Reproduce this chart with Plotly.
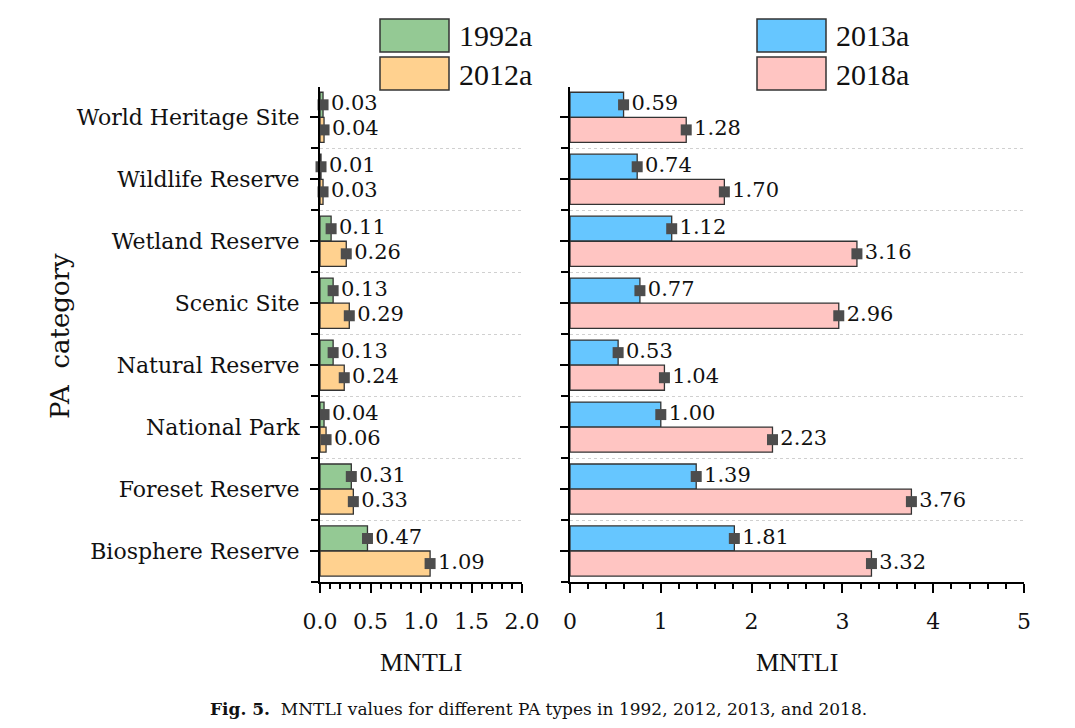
#! /usr/bin/env python3

import plotly.graph_objects as go

# categories top to bottom
CATEGORIES = ["World Heritage Site", "Wildlife Reserve", "Wetland Reserve", "Scenic Site",
              "Natural Reserve", "National Park", "Foreset Reserve", "Biosphere Reserve"]
MNTLI_1992 = [0.03, 0.01, 0.11, 0.13, 0.13, 0.04, 0.31, 0.47]
MNTLI_2012 = [0.04, 0.03, 0.26, 0.29, 0.24, 0.06, 0.33, 1.09]
MNTLI_2013 = [0.59, 0.74, 1.12, 0.77, 0.53, 1.00, 1.39, 1.81]
MNTLI_2018 = [1.28, 1.70, 3.16, 2.96, 1.04, 2.23, 3.76, 3.32]
NAMES = ["1992a", "2012a", "2013a", "2018a"]
COLORS = ["#94c994", "#ffd18f", "#66c6ff", "#ffc5c2"]

FONT = "DejaVu Serif"
NARROW = "Liberation Serif"
W, H = 1075, 728
OFF = 8  # page body margin


def px(x, y):
    return (x - OFF) / W, 1 - (y - OFF) / H


def main():
    fig = go.Figure()
    pos = list(range(len(CATEGORIES)))
    series = [(MNTLI_1992, "x", "y"), (MNTLI_2012, "x", "y"),
              (MNTLI_2013, "x2", "y2"), (MNTLI_2018, "x2", "y2")]

    for i, (vals, xa, ya) in enumerate(series):
        fig.add_trace(go.Bar(x=vals, y=pos, orientation="h", name=NAMES[i],
                             marker=dict(color=COLORS[i], line=dict(color="#333333", width=1.3)),
                             offsetgroup=str(i % 2), xaxis=xa, yaxis=ya, showlegend=False))
    for i, (vals, xa, ya) in enumerate(series):
        fig.add_trace(go.Scatter(x=vals, y=pos, mode="markers+text", offsetgroup=str(i % 2),
                                 orientation="h",
                                 marker=dict(symbol="square", size=11, color="#4d4d4d"),
                                 text=[f"{v:.2f}" for v in vals], textposition="middle right",
                                 textfont=dict(family=FONT, size=21, color="#111"),
                                 xaxis=xa, yaxis=ya, showlegend=False, cliponaxis=False))

    xcommon = dict(showline=True, linecolor="black", linewidth=2, ticks="outside", ticklen=9,
                   tickwidth=2, tickcolor="black", showgrid=False, zeroline=False, automargin=False,
                   tickfont=dict(family=FONT, size=22, color="#111"), ticklabelstandoff=10,
                   minor=dict(ticks="outside", ticklen=5, tickwidth=1.5, tickcolor="black"))
    ycommon = dict(showline=True, linecolor="black", linewidth=2, ticks="outside", ticklen=8,
                   tickwidth=2, tickcolor="black", range=[7.5, -0.49], zeroline=False,
                   tickvals=pos, showgrid=False, automargin=False, ticklabelstandoff=6,
                   minor=dict(ticks="outside", tick0=0.5, dtick=1, ticklen=7, tickwidth=2,
                              tickcolor="black", showgrid=True, gridcolor="#d0d0d0",
                              griddash="dot", gridwidth=1))

    x0, y0 = px(320, 582)
    x1, y1 = px(522, 87)
    x2, _ = px(570, 0)
    x3, _ = px(1024, 0)

    fig.update_layout(
        width=W, height=H, margin=dict(l=0, r=0, t=0, b=0, autoexpand=False),
        paper_bgcolor="white", plot_bgcolor="white",
        barmode="group", bargap=0.19, bargroupgap=0, scattermode="group", scattergap=0.19,
        font=dict(family=FONT, color="#111"),
        xaxis=dict(xcommon, domain=[x0, x1], range=[0, 2.0], dtick=0.5, tickformat=".1f",
                   anchor="y", minor=dict(xcommon["minor"], dtick=0.1)),
        xaxis2=dict(xcommon, domain=[x2, x3], range=[0, 5], dtick=1, anchor="y2",
                    minor=dict(xcommon["minor"], dtick=0.2)),
        yaxis=dict(ycommon, domain=[y0, y1], anchor="x", ticktext=CATEGORIES,
                   tickfont=dict(family=FONT, size=22, color="#111")),
        yaxis2=dict(ycommon, domain=[y0, y1], anchor="x2", showticklabels=False),
    )

    # legend boxes drawn as shapes (two separate legends)
    legend_pos = [(380, 19), (380, 57), (757, 19), (757, 57)]
    for i, (lx, ly) in enumerate(legend_pos):
        ax0, ay0 = px(lx, ly)
        ax1, ay1 = px(lx + 69, ly + 33)
        fig.add_shape(type="rect", xref="paper", yref="paper", x0=ax0, x1=ax1, y0=ay1, y1=ay0,
                      fillcolor=COLORS[i], line=dict(color="#333333", width=1.5))
        tx, ty = px(lx + 77, ly + 17)
        fig.add_annotation(x=tx, y=ty, xref="paper", yref="paper", text=NAMES[i], showarrow=False,
                           xanchor="left", yanchor="middle", font=dict(family=NARROW, size=30))

    for cx in [(320 + 522) / 2, (570 + 1024) / 2]:
        tx, ty = px(cx, 662)
        fig.add_annotation(x=tx, y=ty, xref="paper", yref="paper", text="MNTLI", showarrow=False,
                           xanchor="center", yanchor="middle", font=dict(family=NARROW, size=26))
    tx, ty = px(60, 336)
    fig.add_annotation(x=tx, y=ty, xref="paper", yref="paper", text="PA  category", showarrow=False,
                       xanchor="center", yanchor="middle", textangle=-90,
                       font=dict(family=FONT, size=26))
    tx, ty = px(538, 709)
    fig.add_annotation(x=tx, y=ty, xref="paper", yref="paper", showarrow=False,
                       xanchor="center", yanchor="middle",
                       text="<b>Fig. 5.</b>  MNTLI values for different PA types in 1992, 2012, 2013, and 2018.",
                       font=dict(family=FONT, size=17))

    fig.write_html("out.html")


if __name__ == "__main__":
    main()
